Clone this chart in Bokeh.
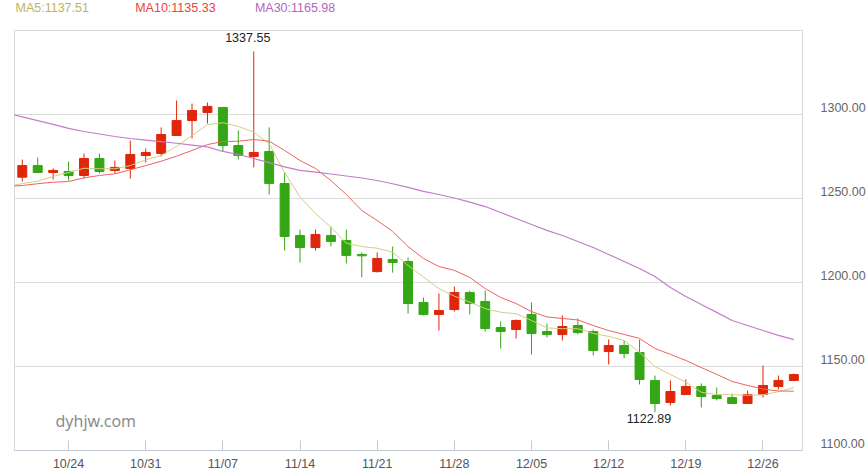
from bokeh.plotting import figure
from bokeh.layouts import column
from bokeh.models import ColumnDataSource, Range1d, LinearAxis, FixedTicker, Grid, Label
from bokeh.embed import file_html
from bokeh.resources import INLINE

FONT = "Liberation Sans"
FONT_SIZE = "12.5px"

dates = ["10/19", "10/20", "10/21", "10/24", "10/25", "10/26", "10/27", "10/28", "10/31", "11/01",
         "11/02", "11/03", "11/04", "11/07", "11/08", "11/09", "11/10", "11/11", "11/14", "11/15",
         "11/16", "11/17", "11/18", "11/21", "11/22", "11/23", "11/24", "11/25", "11/28", "11/29",
         "11/30", "12/01", "12/02", "12/05", "12/06", "12/07", "12/08", "12/09", "12/12", "12/13",
         "12/14", "12/15", "12/16", "12/19", "12/20", "12/21", "12/22", "12/23", "12/26", "12/27",
         "12/28"]

opens = [1262.7, 1269.6, 1265.5, 1266.1, 1263.7, 1273.8, 1266.7, 1267.9, 1275.6, 1276.8,
         1287.5, 1296.4, 1301.2, 1304.2, 1281.5, 1275.0, 1278.0, 1258.9, 1228.0, 1220.8,
         1228.0, 1225.0, 1216.7, 1206.5, 1213.7, 1212.5, 1188.1, 1181.0, 1183.9, 1194.0,
         1188.7, 1173.2, 1172.0, 1181.0, 1170.8, 1169.0, 1174.4, 1170.8, 1158.9, 1162.5,
         1158.3, 1141.7, 1128.6, 1133.3, 1138.1, 1132.7, 1131.5, 1128.0, 1133.3, 1138.1,
         1141.7]
closes = [1269.6, 1265.5, 1266.7, 1263.7, 1273.8, 1266.1, 1268.5, 1276.2, 1277.4, 1288.1,
          1296.4, 1302.4, 1304.8, 1281.5, 1275.6, 1277.4, 1258.9, 1227.4, 1220.8, 1228.6,
          1224.4, 1216.1, 1215.9, 1214.3, 1211.9, 1187.5, 1181.0, 1183.3, 1194.0, 1187.5,
          1172.6, 1170.8, 1177.4, 1169.6, 1169.0, 1173.8, 1170.2, 1159.5, 1162.5, 1157.7,
          1142.3, 1128.0, 1135.1, 1138.1, 1132.1, 1130.9, 1128.0, 1133.3, 1138.7, 1141.7,
          1145.2]
highs = [1273.2, 1274.4, 1267.9, 1272.0, 1276.8, 1276.8, 1272.6, 1284.5, 1279.8, 1292.3,
         1308.3, 1306.5, 1307.1, 1304.2, 1290.5, 1337.55, 1292.3, 1265.5, 1231.5, 1231.5,
         1233.3, 1231.5, 1217.9, 1217.9, 1221.4, 1214.9, 1191.1, 1193.5, 1197.6, 1195.2,
         1195.2, 1176.8, 1178.0, 1188.1, 1175.6, 1180.4, 1178.6, 1172.0, 1166.1, 1165.5,
         1166.1, 1144.6, 1141.7, 1142.3, 1139.9, 1137.5, 1133.9, 1135.7, 1150.6, 1144.6,
         1145.8]
lows = [1260.1, 1265.1, 1261.3, 1260.7, 1261.9, 1264.9, 1264.9, 1261.9, 1271.4, 1275.0,
        1287.5, 1285.7, 1294.6, 1278.0, 1273.2, 1268.5, 1252.4, 1219.0, 1211.9, 1219.0,
        1221.4, 1211.3, 1203.0, 1205.9, 1205.9, 1181.5, 1180.4, 1171.4, 1182.7, 1181.0,
        1170.8, 1160.7, 1166.7, 1157.1, 1167.3, 1165.5, 1169.0, 1156.5, 1151.2, 1154.8,
        1139.3, 1122.89, 1126.8, 1133.3, 1125.6, 1129.8, 1128.0, 1128.0, 1131.5, 1136.3,
        1141.7]

# moving averages start one session before the first candle, that part is clipped by the frame
ma5 = [1256.9, 1258.9, 1260.3, 1263.1, 1265.5, 1268.0, 1267.7, 1267.7, 1269.6, 1273.0,
       1275.6, 1281.0, 1287.5, 1293.9, 1295.1, 1292.9, 1289.5, 1282.6, 1265.5, 1250.8,
       1241.1, 1232.9, 1223.4, 1221.4, 1220.4, 1218.0, 1210.1, 1203.2, 1196.4, 1191.9,
       1188.3, 1184.4, 1182.3, 1181.4, 1177.4, 1173.0, 1172.5, 1172.5, 1169.7, 1167.9,
       1165.5, 1158.5, 1150.0, 1145.2, 1140.7, 1134.7, 1133.3, 1133.2, 1132.9, 1133.2,
       1135.0, 1137.51]
ma10 = [1257.3, 1257.7, 1258.8, 1259.7, 1260.1, 1262.3, 1263.7, 1264.7, 1267.1, 1269.6,
        1272.2, 1275.2, 1278.6, 1282.1, 1283.9, 1284.1, 1285.1, 1284.1, 1278.6, 1272.6,
        1267.9, 1260.7, 1252.4, 1242.9, 1236.9, 1230.4, 1221.4, 1214.3, 1209.5, 1207.2,
        1203.0, 1196.4, 1191.1, 1187.5, 1182.7, 1179.5, 1178.6, 1177.7, 1174.4, 1171.4,
        1169.1, 1166.7, 1160.7, 1157.2, 1153.6, 1149.4, 1145.3, 1141.1, 1138.7, 1136.6,
        1135.4, 1135.33]
ma30 = [1300.9, 1298.6, 1296.4, 1294.1, 1291.7, 1289.9, 1288.4, 1286.9, 1285.7, 1284.8,
        1283.9, 1282.9, 1281.8, 1280.7, 1278.0, 1276.2, 1273.8, 1271.4, 1268.8, 1266.7,
        1265.7, 1264.6, 1263.4, 1262.2, 1260.7, 1258.8, 1256.6, 1254.2, 1252.4, 1250.3,
        1247.8, 1245.2, 1241.7, 1238.1, 1234.5, 1231.0, 1228.0, 1224.4, 1220.8, 1216.7,
        1212.5, 1208.3, 1203.6, 1197.0, 1191.7, 1186.9, 1182.2, 1177.4, 1174.4, 1171.4,
        1168.5, 1165.98]

price_ticks = [1100, 1150, 1200, 1250, 1300]
date_ticks = list(range(3, len(dates), 5))
legend_items = [("MA5:1137.51", "#b9b55f", 15), ("MA10:1135.33", "#e8443a", 135), ("MA30:1165.98", "#b366bd", 255)]

UP = "#e0260a"
DOWN = "#35a615"

xs = list(range(len(dates)))
source = ColumnDataSource(data={
    "x": xs,
    "top": [max(o, c) for o, c in zip(opens, closes)],
    "bottom": [min(o, c) for o, c in zip(opens, closes)],
    "high": highs,
    "low": lows,
    "color": [UP if c >= o else DOWN for o, c in zip(opens, closes)],
})

# legend strip above the chart, its own figure because labels get clipped to the frame
# the column lines its frame up with the chart frame, so the range runs over those pixels
head = figure(width=868, height=30, output_backend="svg", toolbar_location=None,
              x_range=Range1d(14, 804), y_range=Range1d(0, 30),
              x_axis_location=None, y_axis_location=None,
              min_border=0, margin=(0, 0, 0, 0))
head.outline_line_color = None
head.grid.grid_line_color = None
for text, color, left in legend_items:
    head.add_layout(Label(x=left, y=22.7, text=text, text_font=FONT, text_font_size=FONT_SIZE,
                          text_color=color, text_baseline="middle"))

# the date axis needs 23px under the frame, 2 more than the page has left
p = figure(width=868, height=443, output_backend="svg", toolbar_location=None,
           x_range=Range1d(-0.504, 50.56), y_range=Range1d(1100, 1350),
           x_axis_location=None, y_axis_location=None,
           min_border_left=14, min_border_right=64, min_border_top=0, min_border_bottom=21,
           margin=(0, 0, -2, 0))
p.outline_line_color = "#d3d7dd"
p.background_fill_color = "white"
p.grid.grid_line_color = None

grid = Grid(dimension=1, ticker=FixedTicker(ticks=price_ticks), grid_line_color="#dcdcdc", grid_line_width=1)
p.add_layout(grid)

xaxis = LinearAxis(ticker=FixedTicker(ticks=date_ticks),
                   major_label_overrides={i: dates[i] for i in date_ticks})
xaxis.axis_line_color = "#c3cad3"
xaxis.major_tick_line_color = "#c3cad3"
xaxis.major_tick_in = 10
xaxis.major_tick_out = 0
xaxis.minor_tick_line_color = None
xaxis.major_label_standoff = 6
xaxis.major_label_text_font = FONT
xaxis.major_label_text_font_size = FONT_SIZE
xaxis.major_label_text_color = "#555555"
p.add_layout(xaxis, "below")

# price labels sit above their grid lines, so this axis ticks 4 points higher than the grid
LABEL_SHIFT = 4
yaxis = LinearAxis(ticker=FixedTicker(ticks=[t + LABEL_SHIFT for t in price_ticks]),
                   major_label_overrides={t + LABEL_SHIFT: "%.2f" % t for t in price_ticks})
yaxis.axis_line_color = None
yaxis.major_tick_line_color = None
yaxis.minor_tick_line_color = None
yaxis.major_label_standoff = 12
yaxis.major_label_text_font = FONT
yaxis.major_label_text_font_size = FONT_SIZE
yaxis.major_label_text_color = "#666666"
p.add_layout(yaxis, "right")

p.segment("x", "high", "x", "low", source=source, color="color", line_width=1)
p.vbar("x", top="top", bottom="bottom", width=0.58, source=source, fill_color="color", line_color="color")

ma_xs = [-1] + xs
p.line(ma_xs, ma5, line_color="#d3cd86", line_width=1)
p.line(ma_xs, ma10, line_color="#ef625c", line_width=1)
p.line(ma_xs, ma30, line_color="#c47ccb", line_width=1.2)

p.add_layout(Label(x=15, y=max(highs), y_offset=14, x_offset=-6, text="%.2f" % max(highs), text_align="center",
                   text_font=FONT, text_font_size=FONT_SIZE, text_color="#222222", text_baseline="middle"))
p.add_layout(Label(x=41, y=min(lows), y_offset=-6, x_offset=-6, text="%.2f" % min(lows), text_align="center",
                   text_font=FONT, text_font_size=FONT_SIZE, text_color="#222222", text_baseline="middle"))
p.add_layout(Label(x=41, y=30, x_units="screen", y_units="screen", text="dyhjw.com",
                   text_font="Noto Sans", text_font_size="16px", text_color="#8c8c8c", text_baseline="middle"))

page = column(head, p, spacing=0, margin=(0, 0, 0, 0))
open("out.html", "w").write(file_html(page, INLINE))
